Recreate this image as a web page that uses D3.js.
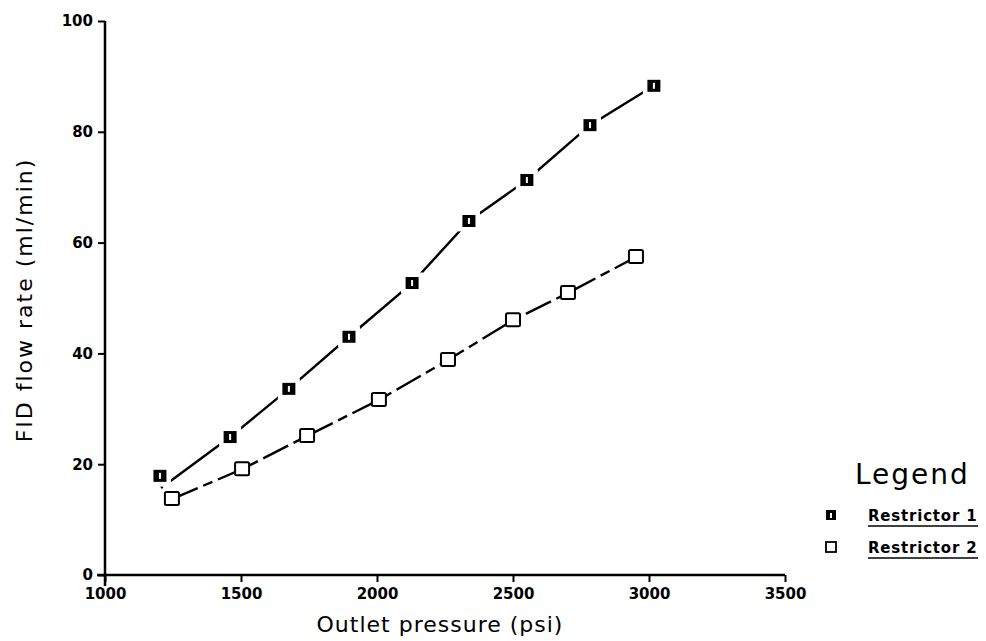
<!DOCTYPE html>
<html>
<head>
<meta charset="utf-8">
<script src="https://cdn.jsdelivr.net/npm/d3@7"></script>
<style>
  body { margin: 0; background: #fff; }
  text { font-family: "DejaVu Sans", sans-serif; fill: #000; }
  .tick text { font-size: 15px; font-weight: bold; }
</style>
</head>
<body>
<div id="vis"></div>
<script>
// data
var pressure1 = [1202, 1460, 1676, 1897, 2129, 2338, 2551, 2783, 3018];
var flow1 = [17.9, 24.9, 33.6, 43.0, 52.7, 63.9, 71.3, 81.2, 88.3];
var pressure2 = [1246, 1504, 1743, 2007, 2261, 2500, 2702, 2952];
var flow2 = [13.7, 19.1, 25.1, 31.6, 38.8, 46.0, 50.9, 57.4];
// where the restrictor 1 trace starts (just under its first marker)
var lineStart1 = [1206, 15.7];
var xTicks = [1000, 1500, 2000, 2500, 3000, 3500];
var yTicks = [0, 20, 40, 60, 80, 100];
var legendLabels = ['Restrictor 1', 'Restrictor 2'];

var width = 986, height = 641;

var svg = d3.select('#vis').append('svg')
  .attr('width', width)
  .attr('height', height);

var x = d3.scaleLinear().domain([1000, 3500]).range([105, 785]);
var y = d3.scaleLinear().domain([0, 100]).range([575, 21]);

svg.append('g')
  .attr('transform', 'translate(0,575)')
  .call(d3.axisBottom(x).tickValues(xTicks).tickSize(7).tickPadding(6).tickFormat(d3.format('d')));
svg.append('g')
  .attr('transform', 'translate(105,0)')
  .call(d3.axisLeft(y).tickValues(yTicks).tickSize(7).tickPadding(5));

svg.selectAll('.domain').remove();
svg.selectAll('.tick line').attr('stroke', '#000').attr('stroke-width', 2);

// axis lines, slightly overrunning like the original
svg.append('line').attr('x1', x(1000)).attr('x2', x(1000))
  .attr('y1', y(100)).attr('y2', y(0) + 11)
  .attr('stroke', '#000').attr('stroke-width', 2.5);
svg.append('line').attr('x1', x(1000) - 8).attr('x2', x(3500))
  .attr('y1', y(0)).attr('y2', y(0))
  .attr('stroke', '#000').attr('stroke-width', 2.5);

var s1 = pressure1.map(function (d, i) { return [d, flow1[i]]; });
var s2 = pressure2.map(function (d, i) { return [d, flow2[i]]; });
var path1 = [lineStart1].concat(s1.slice(1));

var line = d3.line()
  .x(function (d) { return x(d[0]); })
  .y(function (d) { return y(d[1]); });

svg.append('path').datum(path1)
  .attr('d', line)
  .attr('fill', 'none').attr('stroke', '#000').attr('stroke-width', 2.4)
  .attr('stroke-dasharray', '2,9,3000,0');
svg.append('path').datum(s2)
  .attr('d', line)
  .attr('fill', 'none').attr('stroke', '#000').attr('stroke-width', 2.4)
  .attr('stroke-dasharray', '28,6,10,6');

// filled markers with a white halo that breaks the line
function filledMarker(sel) {
  sel.append('rect')
    .attr('x', function (d) { return x(d[0]) - 6.5; })
    .attr('y', function (d) { return y(d[1]) - 6; })
    .attr('width', 13).attr('height', 12)
    .attr('fill', '#000').attr('stroke', '#fff').attr('stroke-width', 9)
    .attr('paint-order', 'stroke');
  sel.append('rect')
    .attr('x', function (d) { return x(d[0]) - 1; })
    .attr('y', function (d) { return y(d[1]) - 3; })
    .attr('width', 2).attr('height', 6)
    .attr('fill', '#fff');
}
function openMarker(sel) {
  sel.append('rect')
    .attr('x', function (d) { return x(d[0]) - 7; })
    .attr('y', function (d) { return y(d[1]) - 7; })
    .attr('width', 14).attr('height', 13)
    .attr('rx', 1.5)
    .attr('fill', '#fff').attr('stroke', '#000').attr('stroke-width', 2);
}

svg.selectAll('.m1').data(s1).enter().append('g').attr('class', 'm1').call(filledMarker);
svg.selectAll('.m2').data(s2).enter().append('g').attr('class', 'm2').call(openMarker);

// axis titles
svg.append('text')
  .attr('x', 440).attr('y', 632)
  .attr('text-anchor', 'middle')
  .style('font-size', '22px').style('letter-spacing', '1px')
  .text('Outlet pressure (psi)');
svg.append('text')
  .attr('transform', 'translate(32,300) rotate(-90)')
  .attr('text-anchor', 'middle')
  .style('font-size', '22px').style('letter-spacing', '2px')
  .text('FID flow rate (ml/min)');

// legend
svg.append('text')
  .attr('x', 855).attr('y', 484)
  .style('font-size', '28px').style('letter-spacing', '2px')
  .text('Legend');

var leg = svg.selectAll('.leg').data(legendLabels).enter().append('g')
  .attr('class', 'leg')
  .attr('transform', function (d, i) { return 'translate(0,' + (521 + i * 32) + ')'; });

leg.append('text')
  .attr('x', 868).attr('y', 0)
  .style('font-size', '15px').style('font-weight', 'bold').style('letter-spacing', '0.8px')
  .text(function (d) { return d; });
leg.append('line')
  .attr('x1', 868).attr('x2', 978)
  .attr('y1', 5).attr('y2', 5)
  .attr('stroke', '#000').attr('stroke-width', 1.6);

var lm1 = leg.filter(function (d, i) { return i === 0; });
lm1.append('rect').attr('x', 826).attr('y', -11).attr('width', 10).attr('height', 10).attr('fill', '#000');
lm1.append('rect').attr('x', 830).attr('y', -8).attr('width', 2).attr('height', 5).attr('fill', '#fff');
var lm2 = leg.filter(function (d, i) { return i === 1; });
lm2.append('rect').attr('x', 826).attr('y', -11).attr('width', 10).attr('height', 10)
  .attr('fill', '#fff').attr('stroke', '#000').attr('stroke-width', 1.8);
</script>
</body>
</html>
